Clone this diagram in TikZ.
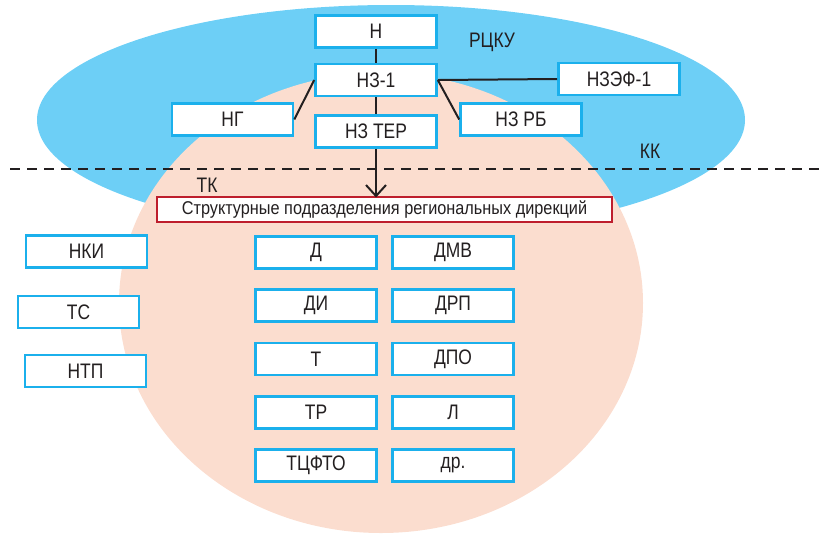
\documentclass[tikz,border=0pt]{standalone}
\usepackage{fontspec}
\setmainfont{Liberation Sans}[FakeStretch=0.83]
\newfontfamily\redfont{Liberation Sans}[FakeStretch=0.88]
\usetikzlibrary{arrows.meta}
\definecolor{skyb}{HTML}{6DCFF6}
\definecolor{peach}{HTML}{FBDDCF}
\definecolor{boxc}{HTML}{1BB0EC}
\definecolor{redc}{HTML}{BE1E2D}
\definecolor{txt}{HTML}{231F20}
\tikzset{
  ubox/.style={draw=boxc, line width=2.6pt, fill=white, minimum width=121pt, minimum height=32pt, inner sep=0pt, font=\fontsize{21}{21}\selectfont, text=txt},
  rbox/.style={draw=redc, line width=2pt, fill=white, minimum width=455pt, minimum height=25pt, inner sep=0pt, font=\redfont\fontsize{18.5}{18.5}\selectfont, text=txt},
  lbl/.style={inner sep=0pt, font=\fontsize{21}{21}\selectfont, text=txt},
  conn/.style={draw=txt, line width=2pt},
}
\begin{document}
\begin{tikzpicture}[x=1pt,y=-1pt]
\useasboundingbox (0,0) rectangle (819,536);
\fill[skyb] (391,120) ellipse [x radius=354, y radius=115];
\fill[peach] (381,303) ellipse [x radius=262, y radius=230];
\draw[txt, line width=2pt, dash pattern=on 10pt off 7pt] (10,169) -- (819,169);
% top boxes
\node[ubox] (n) at (376,31.5) {Н};
\node[ubox] (nz1) at (376,80) {НЗ-1};
\node[ubox] (nzter) at (376,131.5) {НЗ ТЕР};
\node[ubox] (ng) at (232.5,119.5) {НГ};
\node[ubox] (nzrb) at (521,119.5) {НЗ РБ};
\node[ubox] (nzef) at (619,79) {НЗЭФ-1};
\node[rbox] (sp) at (384.5,209.5) {Структурные подразделения региональных дирекций};
% labels
\node[lbl] (rcku) at (492,42) {РЦКУ};
\node[lbl] (kk) at (650,151) {КК};
\node[lbl] (tk) at (207,185) {ТК};
% left boxes
\node[ubox] (nki) at (86.5,251.5) {НКИ};
\node[ubox] (ts) at (78.5,312) {ТС};
\node[ubox] (ntp) at (85.5,371) {НТП};
% grid
\node[ubox] (d) at (316,252.5) {Д};
\node[ubox] (di) at (316,305.5) {ДИ};
\node[ubox] (t) at (316,359) {Т};
\node[ubox] (tr) at (316,412.5) {ТР};
\node[ubox] (tcfto) at (316,465.5) {ТЦФТО};
\node[ubox] (dmv) at (453,252.5) {ДМВ};
\node[ubox] (drp) at (453,305.5) {ДРП};
\node[ubox] (dpo) at (453,359) {ДПО};
\node[ubox] (l) at (453,412.5) {Л};
\node[ubox] (dr) at (453,465.5) {др.};
% connectors
\draw[conn] (n) -- (nz1);
\draw[conn] (nz1) -- (nzter);
\draw[conn] (nz1.east) -- (nzef.west);
\draw[conn] (nz1.west) -- (ng.east);
\draw[conn] (nz1.east) -- (nzrb.west);
\draw[conn, -{Straight Barb[length=11pt, width=20pt, line width=2pt]}] (nzter.south) -- ([yshift=-1.5pt]nzter.south |- sp.north);
\end{tikzpicture}
\end{document}
